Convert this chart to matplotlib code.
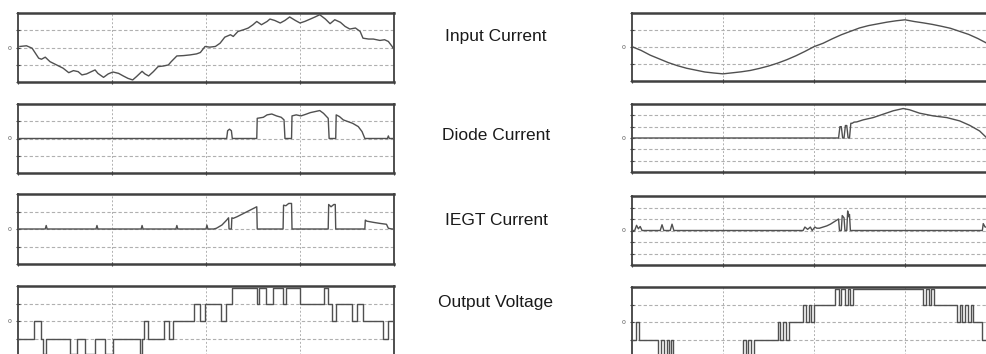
import matplotlib
matplotlib.use("Agg")
import matplotlib.pyplot as plt

# ---------------- data (time and value in scope divisions) ----------------
# Left column
L_in_t = [0.02, 0.09, 0.15, 0.22, 0.25, 0.29, 0.34, 0.41, 0.48, 0.54, 0.59, 0.64, 0.68, 0.73,
          0.78, 0.82, 0.85, 0.91, 0.96, 1.01, 1.07, 1.12, 1.17, 1.22, 1.26, 1.32, 1.35, 1.39,
          1.44, 1.49, 1.55, 1.60, 1.63, 1.69, 1.76, 1.83, 1.90, 1.94, 1.99, 2.04, 2.10, 2.15,
          2.20, 2.26, 2.29, 2.34, 2.40, 2.45, 2.50, 2.54, 2.59, 2.65, 2.68, 2.73, 2.79, 2.84,
          2.89, 2.95, 3.00, 3.05, 3.11, 3.16, 3.21, 3.27, 3.32, 3.37, 3.43, 3.48, 3.53, 3.59,
          3.64, 3.67, 3.73, 3.78, 3.85, 3.90, 3.94, 3.98, 3.99]
L_in_v = [0.06, 0.10, -0.04, -0.62, -0.68, -0.56, -0.82, -1.01, -1.20, -1.46, -1.34, -1.40,
          -1.59, -1.53, -1.40, -1.30, -1.50, -1.73, -1.53, -1.42, -1.50, -1.65, -1.79, -1.88,
          -1.69, -1.38, -1.53, -1.65, -1.40, -1.11, -1.07, -1.01, -0.82, -0.49, -0.47, -0.43,
          -0.37, -0.29, 0.06, 0.02, 0.06, 0.25, 0.60, 0.74, 0.64, 0.93, 1.03, 1.13, 1.32, 1.51,
          1.32, 1.51, 1.65, 1.57, 1.42, 1.57, 1.77, 1.57, 1.42, 1.51, 1.65, 1.77, 1.90, 1.65,
          1.38, 1.61, 1.46, 1.22, 1.07, 1.13, 0.93, 0.54, 0.49, 0.49, 0.41, 0.45, 0.35, 0.06,
          -0.04]

L_di_t = [0.0, 2.22, 2.23, 2.25, 2.27, 2.28, 2.54, 2.545, 2.61, 2.65, 2.70, 2.75, 2.80, 2.83,
          2.84, 2.91, 2.915, 2.96, 3.01, 3.06, 3.11, 3.16, 3.21, 3.25, 3.30, 3.31, 3.38, 3.385,
          3.42, 3.46, 3.51, 3.56, 3.62, 3.66, 3.69, 3.93, 3.94, 3.95, 4.0]
L_di_v = [0.0, 0.0, 0.45, 0.54, 0.45, 0.0, 0.0, 1.17, 1.23, 1.37, 1.42, 1.31, 1.23, 1.08,
          0.0, 0.0, 1.31, 1.37, 1.31, 1.40, 1.50, 1.56, 1.62, 1.46, 1.17, 0.0, 0.0, 1.37,
          1.27, 1.08, 0.98, 0.88, 0.69, 0.40, 0.0, 0.0, 0.15, 0.0, 0.0]

L_ig_t = [0.0, 0.29, 0.30, 0.31, 0.83, 0.84, 0.85, 1.31, 1.32, 1.33, 1.68, 1.69, 1.70,
          2.00, 2.01, 2.02, 2.08, 2.11, 2.17, 2.22, 2.24, 2.245, 2.27, 2.275, 2.29, 2.33,
          2.40, 2.47, 2.54, 2.545, 2.82, 2.825, 2.85, 2.88, 2.91, 2.915, 3.30, 3.305, 3.33,
          3.36, 3.375, 3.38, 3.69, 3.695, 3.71, 3.78, 3.85, 3.92, 3.94, 3.98, 4.0]
L_ig_v = [0.0, 0.0, 0.2, 0.0, 0.0, 0.2, 0.0, 0.0, 0.2, 0.0, 0.0, 0.2, 0.0,
          0.0, 0.22, 0.0, 0.0, 0.04, 0.23, 0.51, 0.64, 0.0, 0.0, 0.64, 0.61, 0.70,
          0.89, 1.08, 1.27, 0.0, 0.0, 1.36, 1.33, 1.46, 1.46, 0.0, 0.0, 1.40, 1.27,
          1.40, 1.40, 0.0, 0.0, 0.51, 0.45, 0.38, 0.32, 0.27, 0.04, 0.0, 0.0]

L_out_t = [0.00, 0.17, 0.24, 0.27, 0.30, 0.55, 0.63, 0.71, 0.82, 0.93, 1.01, 1.30, 1.32,
           1.34, 1.38, 1.55, 1.61, 1.65, 1.87, 1.94, 1.99, 2.16, 2.21, 2.28, 2.54, 2.56,
           2.64, 2.71, 2.82, 2.85, 3.00, 3.26, 3.30, 3.34, 3.38, 3.55, 3.61, 3.67, 3.88,
           3.94, 4.00]
L_out_v = [-1, 0, -1, -1.87, -1, -1.87, -1, -1.87, -1, -1.87, -1, -1.87, -1,
           0, -1, 0, -1, 0, 1, 0, 1, 0, 1, 1.87, 1, 1.87,
           1, 1.87, 1, 1.87, 1, 1.87, 1, 0, 1, 0, 1, 0, -1,
           0, 0]

# Right column
R_in_t = [0.0, 0.1, 0.2, 0.3, 0.4, 0.5, 0.6, 0.7, 0.8, 0.9, 1.0, 1.1, 1.2, 1.3, 1.4, 1.5,
          1.6, 1.7, 1.8, 1.9, 2.0, 2.1, 2.2, 2.3, 2.4, 2.5, 2.6, 2.7, 2.8, 2.9, 3.0, 3.1,
          3.2, 3.3, 3.4, 3.5, 3.6, 3.7, 3.8, 3.9, 4.0]
R_in_v = [0.02, -0.20, -0.48, -0.70, -0.92, -1.10, -1.25, -1.36, -1.47, -1.53, -1.58, -1.52,
          -1.46, -1.38, -1.26, -1.12, -0.95, -0.75, -0.52, -0.26, 0.02, 0.22, 0.48, 0.72,
          0.92, 1.12, 1.26, 1.36, 1.46, 1.54, 1.60, 1.50, 1.42, 1.33, 1.22, 1.10, 0.92,
          0.74, 0.50, 0.22, 0.0]

R_di_t = [0.0, 2.27, 2.285, 2.30, 2.315, 2.33, 2.345, 2.36, 2.375, 2.39, 2.405, 2.42, 2.44,
          2.47, 2.54, 2.65, 2.76, 2.87, 2.98, 3.05, 3.16, 3.31, 3.46, 3.60, 3.71, 3.82,
          3.90, 4.0]
R_di_v = [0.0, 0.0, 1.0, 1.0, 0.0, 0.0, 1.1, 1.1, 0.0, 0.0, 1.3, 1.3, 1.4,
          1.42, 1.60, 1.80, 2.10, 2.40, 2.60, 2.49, 2.19, 1.95, 1.80, 1.51, 1.12, 0.62,
          0.0, 0.0]

R_ig_t = [0.0, 0.03, 0.05, 0.07, 0.09, 0.11, 0.31, 0.33, 0.35, 0.42, 0.44, 0.46, 1.88,
          1.90, 1.93, 1.96, 1.98, 2.01, 2.03, 2.06, 2.10, 2.14, 2.18, 2.22, 2.25, 2.27,
          2.28, 2.30, 2.31, 2.33, 2.34, 2.36, 2.37, 2.38, 2.39, 2.40, 3.85, 3.86, 3.88,
          3.92, 4.0]
R_ig_v = [0.0, 0.0, 0.45, 0.15, 0.35, 0.0, 0.0, 0.5, 0.0, 0.0, 0.55, 0.0, 0.0,
          0.3, 0.1, 0.3, 0.0, 0.3, 0.2, 0.2, 0.3, 0.4, 0.55, 0.75, 0.9, 1.0,
          0.0, 0.0, 1.3, 1.1, 0.0, 0.0, 1.7, 1.2, 1.4, 0.0, 0.0, 0.6, 0.3,
          0.3, 0.3]

R_out_t = [0.00, 0.04, 0.08, 0.29, 0.32, 0.35, 0.38, 0.41, 0.43, 0.45, 1.22, 1.25, 1.28,
           1.31, 1.34, 1.60, 1.63, 1.66, 1.69, 1.72, 1.88, 1.91, 1.94, 1.97, 2.00, 2.23,
           2.27, 2.30, 2.34, 2.37, 2.40, 2.43, 3.20, 3.23, 3.26, 3.29, 3.32, 3.57, 3.60,
           3.63, 3.66, 3.69, 3.72, 3.75, 3.85, 4.00]
R_out_v = [-1, 0, -1, -1.87, -1, -1.87, -1, -1.87, -1, -1.87, -1, -1.87, -1,
           -1.87, -1, 0, -1, 0, -1, 0, 1, 0, 1, 0, 1, 1.87,
           1, 1.87, 1, 1.87, 1, 1.87, 1, 1.87, 1, 1.87, 1, 0, 1,
           0, 1, 0, 1, 0, -1, -1]

labels = ["Input Current", "Diode Current", "IEGT Current", "Output Voltage"]

# ---------------- layout ----------------
W, H = 987, 354
fig = plt.figure(figsize=(W / 100, H / 100), dpi=100)

left_rows = [(13, 82), (104, 173), (194, 264), (286, 356)]
right_rows = [(13, 81), (104, 172), (196, 265), (287, 357)]
left_x = (18, 394)
right_x = (632, 996)

left_data = [(L_in_t, L_in_v, 2, False), (L_di_t, L_di_v, 2, False),
             (L_ig_t, L_ig_v, 2, False), (L_out_t, L_out_v, 2, True)]
right_data = [(R_in_t, R_in_v, 2, False), (R_di_t, R_di_v, 3, False),
              (R_ig_t, R_ig_v, 3, False), (R_out_t, R_out_v, 2, True)]

LINE = "#505050"
FRAME = "#404040"
GRID = "#b0b0b0"


def make_panel(xr, yr, t, v, ndiv, steps):
    x0, x1 = xr
    top, bot = yr
    ax = fig.add_axes([x0 / W, 1 - bot / H, (x1 - x0) / W, (bot - top) / H])
    ax.set_xlim(0, 4)
    ax.set_ylim(-ndiv, ndiv)
    for gx in (1, 2, 3):
        ax.axvline(gx, color=GRID, lw=0.7, ls=(0, (2, 2)), zorder=1)
    for gy in range(-ndiv + 1, ndiv):
        ax.axhline(gy, color=GRID, lw=0.8, ls=(0, (3, 2)), zorder=1)
    if steps:
        ax.plot(t, v, color=LINE, lw=1.0, drawstyle="steps-post", zorder=3)
    else:
        ax.plot(t, v, color=LINE, lw=1.0, zorder=3)
    ax.set_xticks([0, 1, 2, 3, 4])
    ax.set_xticklabels([])
    yt = list(range(-ndiv, ndiv + 1))
    ax.set_yticks(yt)
    ax.set_yticklabels(["0" if y == 0 else "" for y in yt], fontsize=4.5, color="#555555")
    ax.tick_params(axis="both", direction="inout", length=3, width=0.8, color=FRAME, pad=3)
    for s in ax.spines.values():
        s.set_color(FRAME)
        s.set_linewidth(1.3)
    ax.spines["top"].set_linewidth(1.8)
    ax.spines["bottom"].set_linewidth(1.8)
    return ax


for (yr, d) in zip(left_rows, left_data):
    make_panel(left_x, yr, *d)
for (yr, d) in zip(right_rows, right_data):
    make_panel(right_x, yr, *d)

label_y = [37, 135, 220, 303]
for lab, y in zip(labels, label_y):
    fig.text(496 / W, 1 - y / H, lab, ha="center", va="center",
             fontsize=12.5, family="Liberation Sans", color="#1a1a1a")

fig.savefig("out.png", dpi=100)
